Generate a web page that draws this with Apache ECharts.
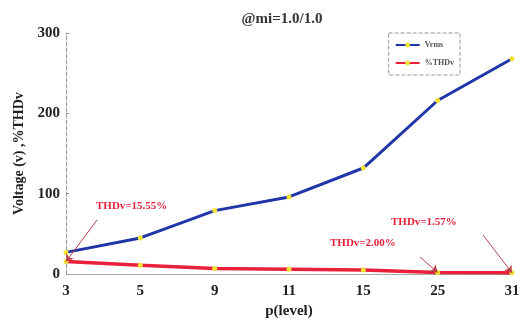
<!DOCTYPE html>
<html>
<head>
<meta charset="utf-8">
<script src="https://cdn.jsdelivr.net/npm/echarts@6/dist/echarts.min.js"></script>
<style>
  html, body { margin: 0; padding: 0; background: #fff; }
  #chart { width: 528px; height: 324px; }
</style>
</head>
<body>
<div id="chart"></div>
<script>
// p levels on the x axis
const levels = ['3', '5', '9', '11', '15', '25', '31'];
// RMS output voltage per level
const vrms = [27, 45, 79, 96, 132, 216, 268];
// voltage THD in percent per level
const thdv = [15.55, 11, 7, 6, 5, 2.00, 1.57];
// y axis ticks
const yTicks = [0, 100, 200, 300];

const serif = '"Liberation Serif", "DejaVu Serif", serif';
const blue = '#1f35a8';
const red = '#e8203a';
const marker = '#f4e230';

const chart = echarts.init(document.getElementById('chart'));

chart.setOption({
  animation: false,
  backgroundColor: '#ffffff',
  title: {
    text: '@mi=1.0/1.0',
    left: 277,
    top: 7,
    textAlign: 'center',
    textStyle: { fontFamily: serif, fontWeight: 'bold', fontSize: 15, color: '#333' }
  },
  legend: {
    right: 68,
    top: 33,
    orient: 'vertical',
    itemWidth: 24,
    itemHeight: 6,
    itemGap: 10,
    padding: [8, 6, 8, 6],
    borderColor: '#999',
    borderWidth: 1,
    borderType: 'dashed',
    textStyle: { fontFamily: serif, fontWeight: 'bold', fontSize: 8, color: '#555' },
    data: ['Vrms', '%THDv']
  },
  grid: { left: 66, right: 16, top: 33, bottom: 45, containLabel: false },
  xAxis: {
    type: 'category',
    data: levels,
    boundaryGap: false,
    name: 'p(level)',
    nameLocation: 'middle',
    nameGap: 27,
    nameTextStyle: { fontFamily: serif, fontWeight: 'bold', fontSize: 15, color: '#222' },
    axisLine: { lineStyle: { color: '#aaa', width: 1 } },
    axisTick: { show: false },
    axisLabel: { fontFamily: serif, fontWeight: 'bold', fontSize: 15, color: '#222', margin: 10 },
    splitLine: { show: false }
  },
  yAxis: {
    type: 'value',
    min: yTicks[0],
    max: yTicks[yTicks.length - 1],
    interval: yTicks[1] - yTicks[0],
    name: 'Voltage (v) ,%THDv',
    nameLocation: 'middle',
    nameGap: 32,
    nameTextStyle: { fontFamily: serif, fontWeight: 'bold', fontSize: 14, color: '#222' },
    axisLine: { show: true, lineStyle: { color: '#999', width: 1, type: 'dashed' } },
    axisTick: { show: true, length: 3, inside: true, lineStyle: { color: '#999' } },
    axisLabel: { fontFamily: serif, fontWeight: 'bold', fontSize: 15, color: '#222', margin: 6 },
    splitLine: { show: false }
  },
  series: [
    {
      name: 'Vrms',
      type: 'line',
      data: vrms,
      color: blue,
      lineStyle: { color: blue, width: 3 },
      symbol: 'circle',
      symbolSize: 5,
      itemStyle: { color: marker, borderWidth: 0 },
      z: 3
    },
    {
      name: '%THDv',
      type: 'line',
      data: thdv,
      color: red,
      lineStyle: { color: red, width: 3.5 },
      symbol: 'circle',
      symbolSize: 5,
      itemStyle: { color: marker, borderWidth: 0 },
      z: 4,
      markLine: {
        silent: true,
        symbol: ['none', 'arrow'],
        symbolSize: 7,
        lineStyle: { color: '#b8404a', width: 1, type: 'solid' },
        label: { show: false },
        data: [
          [{ x: 97, y: 220 }, { coord: [0, thdv[0]] }],
          [{ x: 420, y: 257 }, { coord: [5, thdv[5]] }],
          [{ x: 483, y: 235 }, { coord: [6, thdv[6]] }]
        ]
      }
    }
  ],
  graphic: [
    { type: 'text', left: 96, top: 201,
      style: { text: 'THDv=' + thdv[0].toFixed(2) + '%', fill: red, font: 'bold 11px ' + serif } },
    { type: 'text', left: 330, top: 238,
      style: { text: 'THDv=' + thdv[5].toFixed(2) + '%', fill: red, font: 'bold 11px ' + serif } },
    { type: 'text', left: 391, top: 217,
      style: { text: 'THDv=' + thdv[6].toFixed(2) + '%', fill: red, font: 'bold 11px ' + serif } }
  ]
});
</script>
</body>
</html>
